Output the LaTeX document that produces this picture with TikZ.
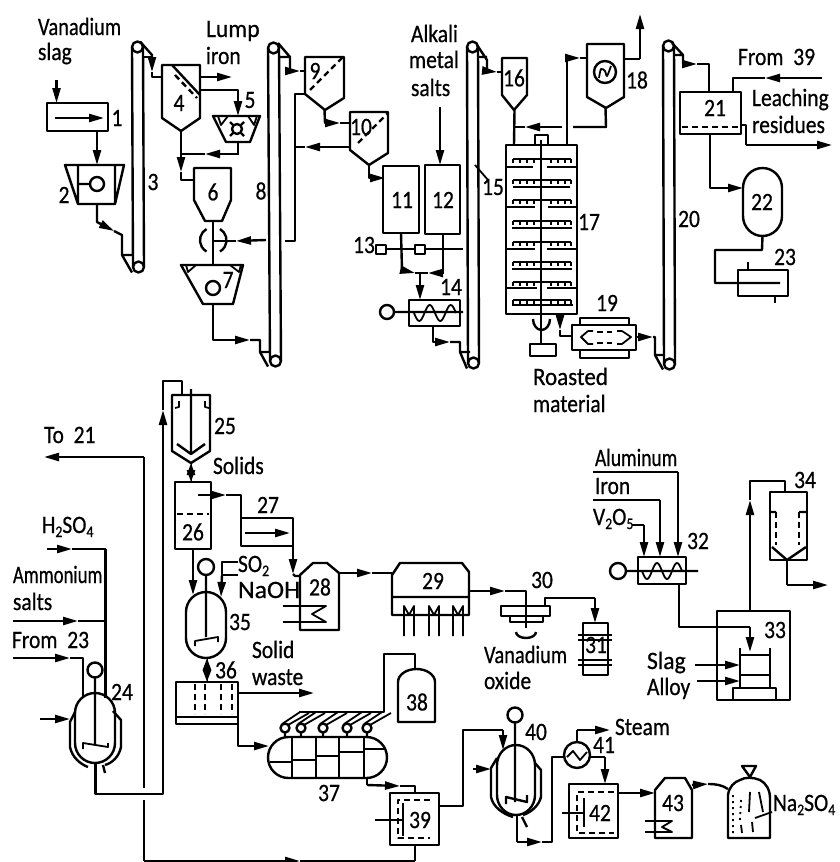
\documentclass[tikz,border=0pt]{standalone}
\usepackage{graphicx}
\usepackage{fontspec}
\setmainfont[FakeStretch=0.86,FakeBold=0.6]{Carlito}
\usetikzlibrary{arrows.meta,fit}
\newcommand{\sbs}[1]{\raisebox{-4pt}{\fontsize{16}{16}\selectfont #1}}
\newcommand{\hs}[2]{\scalebox{#1}[1]{#2}}
\newcommand{\unit}[6][]{\coordinate (#2-a) at (#3,#4);\coordinate (#2-b) at (#5,#6);\node[fit=(#2-a)(#2-b),inner sep=0pt,outer sep=0pt,#1] (#2) {};}
\newcommand{\elev}[6]{\coordinate (#1-a) at ({#2-5.5},{#3-5.5});\coordinate (#1-b) at ({#4+5.5},{#5+5.5});
 \node[fit=(#1-a)(#1-b),inner sep=0pt,outer sep=0pt] (#1) {};
 \draw[ln] (#2,#3) circle (5.5);\draw[ln] (#4,#5) circle (5.5);
 \draw[ln] ({#2-5.5},#3) -- ({#4-5.5},#5);\draw[ln] ({#2+5.5},#3) -- ({#4+5.5},#5);}
\newcommand{\tray}[6]{\draw[ln] (#3,#2) -- (#4,#2);\draw[ln] (#5,#2) -- (#6,#2);
 \draw[lt] (513,#1) -- (571,#1) (513,#1) -- +(0,4) (520,#1) -- +(0,4) (527,#1) -- +(0,4) (534,#1) -- +(0,4)
  (551,#1) -- +(0,4) (558,#1) -- +(0,4) (565,#1) -- +(0,4) (571,#1) -- +(0,4);}
\newcommand{\wave}[5]{\draw[lt] plot[domain=0:#5,samples=40,smooth] ({#1+\x*#3},{#2+#4*sin(360*\x)});}
\tikzset{
 ln/.style={line width=2.4pt,line join=round,black},
 lt/.style={line width=1.8pt,line join=round,black},
 ar/.style={ln,-{Triangle[length=15pt,width=8pt]},preaction={draw,arrows=-,shorten >=3pt}},
 dar/.style={ln,{Triangle[length=12pt,width=8pt]}-{Triangle[length=12pt,width=8pt]},preaction={draw,arrows=-}},
 dsh/.style={ln,dash pattern=on 6pt off 4pt},
 txt/.style={anchor=base west,inner sep=0pt,outer sep=0pt,font=\fontsize{25}{25}\selectfont},
 num/.style={anchor=center,inner sep=0pt,outer sep=0pt,font=\fontsize{25}{25}\selectfont},
}
\begin{document}
\begin{tikzpicture}[x=1pt,y=-1pt]
\useasboundingbox (0,0) rectangle (840,862);
% ---------- labels
\node[txt] (tVan) at (38,35) {\hs{0.95}{Vanadium}};
\node[txt] (tSlg) at (38,60) {slag};
\node[txt] (tLmp) at (206,37) {\hs{1.1}{Lump}};
\node[txt] (tIrn) at (206,64) {iron};
\node[txt] (tAlk) at (411,42) {Alkali};
\node[txt] (tMet) at (409,68) {metal};
\node[txt] (tSal) at (411,96) {salts};
\node[txt] (tRoa) at (533,385) {\hs{1.07}{Roasted}};
\node[txt] (tMat) at (533,412) {material};
\node[txt] (tF39) at (738,65) {From\ \ 39};
\node[txt] (tLea) at (752,106) {Leaching};
\node[txt] (tRes) at (752,133) {residues};
\node[txt] (tT21) at (44,443) {To\ \ 21};
\node[txt] (tH2) at (42,533) {H\sbs{2}SO\sbs{4}};
\node[txt] (tAmm) at (13,583) {\hs{0.87}{Ammonium}};
\node[txt] (tAms) at (13,610) {salts};
\node[txt] (tF23) at (12,648) {From\ \ 23};
\node[txt] (tSol) at (213,474) {Solids};
\node[txt] (tSO2) at (238,572) {SO\sbs{2}};
\node[txt] (tNaO) at (238,598) {\hs{1.2}{NaOH}};
\node[txt] (tSw1) at (252,658) {Solid};
\node[txt] (tSw2) at (252,685) {waste};
\node[txt] (tAlu) at (595,466) {\hs{0.91}{Aluminum}};
\node[txt] (tIro) at (595,494) {Iron};
\node[txt] (tV2) at (593,525) {V\sbs{2}O\sbs{5}};
\node[txt] (tVa2) at (484,663) {\hs{0.95}{Vanadium}};
\node[txt] (tOx) at (484,689) {oxide};
\node[txt] (tSla) at (647,669) {\hs{1.1}{Slag}};
\node[txt] (tAll) at (647,695) {Alloy};
\node[txt] (tSte) at (615,735) {Steam};
\node[txt] (tNa) at (773,811) {Na\sbs{2}SO\sbs{4}};
% numbers
\node[num] at (117,118) {1};\node[num] at (64,195) {2};\node[num] at (153,182) {3};
\node[num] at (179,103) {4};\node[num] at (250,100) {5};\node[num] at (213,192) {6};
\node[num] at (228,280) {7};\node[num] at (261,191) {8};\node[num] at (315,71) {9};
\node[num] at (361,127) {10};\node[num] at (402,200) {11};\node[num] at (443,200) {12};
\node[num] at (364,245) {13};\node[num] at (451,287) {14};\node[num] at (493,187) {15};
\node[num] at (514,78) {16};\node[num] at (589,222) {17};\node[num] at (637,80) {18};
\node[num] at (607,303) {19};\node[num] at (689,219) {20};\node[num] at (715,108) {21};
\node[num] at (762,202) {22};\node[num] at (785,257) {23};\node[num] at (122,692) {24};
\node[num] at (225,426) {25};\node[num] at (193,532) {26};\node[num] at (268,505) {27};
\node[num] at (320,587) {28};\node[num] at (433,581) {29};\node[num] at (542,580) {30};
\node[num] at (596,645) {31};\node[num] at (698,541) {32};\node[num] at (775,630) {33};
\node[num] at (805,480) {34};\node[num] at (240,622) {35};\node[num] at (226,670) {36};
\node[num] at (329,793) {37};\node[num] at (417,702) {38};\node[num] at (420,820) {39};
\node[num] at (536,732) {40};\node[num] at (604,745) {41};\node[num] at (600,813) {42};
\node[num] at (673,803) {43};
% ---------- units: upper row
\unit[draw,ln]{u1}{47}{103}{108}{131}
\draw[ar] (55,118) -- (104,118);
\unit{u2}{65}{165}{124}{204}
\draw[ln] (65,165) -- (124,165) -- (115,204) -- (78,204) -- cycle (78,165) -- (78,204) (115,165) -- (115,204) (78,184) -- (90,184);
\draw[ln] (97,184) circle (7);
\elev{e3}{137.5}{47}{138.5}{267}{}
\unit{u4}{162}{65}{200}{131}
\draw[ln] (162,65) -- (200,65) -- (200,118) -- (181,131) -- (162,118) -- cycle;
\draw[ln] (172,65) -- (200,95);
\draw[dsh] (175,75) -- (197,98);
\unit{u5}{213}{116}{260}{142}
\draw[ln] (213,116) -- (260,116) -- (250,142) -- (226,142) -- cycle;
\draw[lt] (218,116) -- (221,125) -- (228,116) (248,116) -- (254,125) -- (257,116);
\draw[ln] (237,129) circle (5);
\draw[ln] (230,122) -- (233,125) (244,122) -- (241,125) (230,136) -- (233,133) (244,136) -- (241,133);
\unit{u6}{194}{168}{231}{221}
\draw[ln] (194,168) -- (231,168) -- (231,200) -- (222,221) -- (205,221) -- (194,200) -- cycle;
\unit{u7}{181}{265}{243}{304}
\draw[ln] (181,265) -- (243,265) -- (233,304) -- (203,304) -- cycle;
\draw[lt] (186,265) -- (188,272) -- (196,265) (230,265) -- (239,272) -- (241,265);
\draw[ln] (213,288) circle (7);
\draw[ln] (206.5,229) arc (-120:-240:13);
\draw[ln] (220,229) arc (-60:60:13);
\elev{e8}{273.5}{48}{275.5}{361}{}
\unit{u9}{305}{57}{344}{110}
\draw[ln] (305,57) -- (344,57) -- (344,98) -- (325,110) -- (305,94) -- cycle;
\draw[dsh] (310,90) -- (343,57);
\unit{u10}{350}{112}{388}{165}
\draw[ln] (350,112) -- (388,112) -- (388,153) -- (369,165) -- (350,150) -- cycle;
\draw[dsh] (358,143) -- (388,113);
\unit[draw,ln]{u11}{383}{166}{419}{233}
\unit[draw,ln]{u12}{425}{165}{460}{234}
\draw[ln] (376,245) rectangle (386,254);
\draw[ln] (415,245) rectangle (425,254);
\draw[ln] (386,249) -- (415,249) (425,249) -- (463,249);
\unit[draw,ln]{u14}{409}{300}{460}{326}
\draw[ln] (387,312) circle (7) (394,312) -- (463,312);
\wave{414}{313}{21}{8}{2}
\elev{e15}{472.5}{47}{473.5}{363}{}
\draw[lt] (475,165) -- (488,180);
\unit{u16}{502}{58}{527}{110}
\draw[ln] (502,58) -- (527,58) -- (527,95) -- (514,110) -- (502,95) -- cycle;
\unit[draw,ln]{u17}{506}{145}{577}{314}
\draw[ln] (535,145) -- (535,135) -- (548,135) -- (548,145);
\draw[ln] (541,140) -- (541,343);
\tray{159}{167}{507}{533}{547}{577}
\tray{180}{187}{513}{541}{541}{570}
\tray{200}{207}{507}{535}{548}{577}
\tray{221}{228}{512}{541}{541}{572}
\tray{242}{249}{507}{535}{547}{577}
\tray{262}{269}{512}{541}{541}{572}
\tray{282}{288}{507}{537}{547}{577}
\tray{300}{305}{512}{541}{541}{573}
\draw[ln] (533,319) arc (180:0:8.5 and 11);
\draw[ln] (530,344) rectangle (556,356);
\unit{u18}{587}{44}{624}{108}
\draw[ln] (587,44) -- (624,44) -- (624,97) -- (606,108) -- (587,97) -- cycle;
\draw[ln] (605,72) circle (11);
\draw[lt] plot[smooth] coordinates {(599,78) (601,69) (605,71) (607,76) (611,66)};
\unit{u19}{572}{325}{636}{350}
\draw[ln] (572,325) rectangle (636,350);
\draw[ln] (580,325) -- (580,318) -- (629,318) -- (629,325) (580,350) -- (580,358) -- (629,358) -- (629,350);
\draw[lt] (588,331) -- (581,337) -- (588,344) -- (593,344) (588,331) -- (593,331);
\draw[lt] (622,331) -- (631,337) -- (622,344) (617,331) -- (622,331) (617,344) -- (622,344);
\draw[dsh] (597,332) -- (612,332) (597,343) -- (612,343);
\elev{e20}{668.5}{46}{669.5}{364}{}
\unit[draw,ln]{u21}{680}{92}{741}{134}
\draw[dsh] (682,127) -- (740,127);
\unit{u22}{743}{168}{782}{236}
\draw[ln] (743,188) arc (180:360:19.5 and 20) -- (782,216) arc (0:180:19.5 and 20) -- cycle;
\unit[draw,ln]{u23}{738}{270}{788}{296}
\draw[lt] (748,262) -- (748,270) (775,296) -- (775,303);
% ---------- upper connectors
\draw[ar] (56.5,80) -- (u1.north -| 56.5,0);
\draw[ar] (u1.south -| 97,0) -- (u2.north -| 97,0);
\draw[ar] (u2.south -| 97,0) -- (97,222) -- (114,231);
\draw[ln] (114,231) -- (122,235) -- (122,255) -- (133,255) (122,255) -- (e3.south west);
\draw[ar] (e3.north -| 140,0) -- (152,55) -- (152,72);
\draw[ln] (152,72) -- (152,77) -- (u4.west |- 0,77) (144,57) -- (152,57);
\draw[ar] (u4.east |- 0,77) -- (232,77);
\draw[ar] (u4.east |- 0,90) -- (238,90) -- (u5.north -| 238,0);
\draw[ar] (u5.south -| 238,0) -- (238,154) -- (205,154);
\draw[ln] (205,154) -- (181,154);
\draw[ar] (u4.south) -- (181,172);
\draw[ln] (181,172) -- (181,180) -- (u6.west |- 0,180);
\draw[ln] (u6.south -| 213,0) -- (u7.north -| 213,0);
\draw[ar] (266,240) -- (236,241);
\draw[ln] (236,241) -- (213,241);
\draw[ar] (u7.south -| 213,0) -- (213,340) -- (250,340);
\draw[ln] (250,340) -- (260,340) -- (260,352) -- (270,352) (260,352) -- (e8.south west);
\draw[ln] (278,43) -- (290,57) -- (290,71) (280,57) -- (290,57);
\draw[ar] (290,71) -- (300,71);
\draw[ln] (300,71) -- (u9.west |- 0,71);
\draw[ln] (u9.west |- 0,94) -- (295,94) -- (295,241) -- (285,241);
\draw[ar] (u10.west |- 0,147) -- (305,147);
\draw[ln] (305,147) -- (296,147);
\draw[ar] (u9.south) -- (325,123) -- (340,123);
\draw[ln] (340,123) -- (u10.west |- 0,123);
\draw[ar] (u10.south) -- (369,178) -- (385,178);
\draw[ar] (u11.south) -- (402,270) -- (415,273);
\draw[ln] (415,273) -- (420,273);
\draw[ar] (u12.south -| 443,0) -- (443,273) -- (428,273);
\draw[ln] (428,273) -- (420,273);
\draw[ar] (420,273) -- (u14.north -| 420,0);
\draw[ar] (440,107) -- (u12.north -| 440,0);
\draw[ar] (u14.south -| 433,0) -- (433,342) -- (450,342);
\draw[ln] (450,342) -- (460,342) -- (460,352) -- (470,352) (460,352) -- (e15.south west);
\draw[ln] (477,45) -- (487,60) -- (487,71) (478,57) -- (487,57);
\draw[ar] (487,71) -- (497,72);
\draw[ln] (497,72) -- (u16.west |- 0,72);
\draw[ln] (u16.south) -- (u17.north -| 514,0);
\draw[ln] (u18.south) -- (606,127) -- (573,127);
\draw[ar] (562,127) -- (525,127);
\draw[ln] (525,127) -- (514,127);
\draw[ln] (u17.north -| 567,0) -- (567,58);
\draw[ar] (567,58) -- (580,58);
\draw[ln] (580,58) -- (u18.west |- 0,58);
\draw[ln] (u18.east |- 0,59) -- (640,59);
\draw[ar] (640,59) -- (640,14);
\draw[ar] (u17.south -| 560,0) -- (560,330);
\draw[ln] (560,330) -- (560,336) -- (u19.west |- 0,336);
\draw[ar] (u19.east |- 0,337) -- (653,337);
\draw[ln] (653,337) -- (655,337) -- (655,355) -- (664,355) (655,355) -- (e20.south west);
\draw[ln] (672,43) -- (683,55) -- (683,64) (675,55) -- (683,55);
\draw[ar] (683,64) -- (697,64);
\draw[ln] (697,64) -- (709,64) -- (u21.north -| 709,0);
\draw[ar] (822,78) -- (765,78);
\draw[ln] (765,78) -- (733,78) -- (u21.north -| 733,0);
\draw[ln] (u21.east |- 0,125) -- (746,125) -- (746,145);
\draw[ar] (746,145) -- (832,145);
\draw[ar] (u21.south -| 710,0) -- (710,188) -- (u22.west |- 0,188);
\draw[ln] (u22.south) -- (762,250) -- (715,250) -- (715,283) -- (780,283);
% ---------- lower left
\unit{u24}{70}{693}{122}{770}
\draw[ln] (75,713) arc (180:360:20) -- (115,743) arc (0:180:20) -- cycle;
\draw[ln] (75,712) -- (70,722) -- (70,747) .. controls (72,757) and (80,764) .. (88,767);
\draw[ln] (113,711) -- (121,720) -- (121,747) .. controls (119,757) and (112,763) .. (105,765);
\draw[ln] (95,670) circle (7.5) (95,677.5) -- (95,745);
\draw[lt] (83,749) -- (83,743) -- (108,747) -- (108,743);
\draw[ln] (103,765) -- (105,773);
\draw[ar] (13,658) -- (70,658);
\draw[ln] (70,658) -- (83,658) -- (83,697);
\draw[ln] (105.5,549) -- (105.5,698);
\draw[ar] (47,549) -- (72,549);
\draw[ln] (72,549) -- (105.5,549);
\draw[ar] (13,621) -- (78,621);
\draw[ln] (78,621) -- (105.5,621);
\draw[ar] (40,719) -- (70,719);
\draw[ln] (95.5,763) -- (95.5,794) -- (163,794) -- (163,425);
\draw[ar] (163,425) -- (163,410);
\draw[ln] (163,410) -- (163,381) -- (182,381) -- (182,395);
\draw[ln] (144,788) -- (144,457);
\draw[ar] (144,457) -- (44,457);
\draw[ln] (144,800) -- (144,861);
\draw[ar] (144,861) -- (300,861);
\draw[lt] (300,861) -- (415,861);
\unit{u25}{172}{395}{210}{463}
\draw[ln] (172,395) -- (210,395) -- (210,451) -- (191,463) -- (172,451) -- cycle;
\draw[ln] (191,389) -- (191,453) (177,444) -- (191,454) -- (205,444);
\draw[lt] (179,401) -- (179,407) -- (175,408) (205,401) -- (205,407) -- (209,408);
\unit[draw,ln]{u26}{175}{482}{211}{549}
\draw[dsh] (177,514) -- (209,514);
\draw[dar] (u25.south) -- (u26.north -| 191,0);
\draw[ar] (198,495) -- (226,495);
\draw[ln] (226,495) -- (241,495) -- (241,546) -- (293,546) -- (293,518) -- (241,518);
\draw[ar] (245,533) -- (290,533);
\draw[ar] (293,540) -- (293,574);
\draw[ln] (293,574) -- (295,576) -- (300,576);
\unit{u28}{300}{563}{339}{630}
\draw[ln] (300,575) -- (313,563) -- (327,563) -- (339,573) -- (339,630) -- (300,630) -- cycle;
\draw[lt] (283,606) -- (326,606) -- (312,614) -- (326,622) -- (283,622);
\draw[ar] (u28.east |- 0,573) -- (372,573);
\draw[ln] (372,573) -- (392,573);
\unit{u35}{186}{592}{226}{658}
\draw[ln] (186,612) arc (180:360:20) -- (226,638) arc (0:180:20) -- cycle;
\draw[ln] (206,567) circle (8) (206,575) -- (206,637);
\draw[lt] (195,646) -- (195,641) -- (218,637) -- (218,642);
\draw[ar] (u26.south -| 193,0) -- (193,595);
\draw[ln] (238,562) -- (222,562) -- (222,580) (238,575) -- (222,575);
\draw[ar] (222,575) -- (221,597);
\draw[dar] (u35.south -| 207,0) -- (207,682);
\unit[draw,ln]{u36}{176}{682}{238}{724}
\draw[ln] (176,717) -- (238,717);
\draw[dsh] (195,684) -- (195,714) (205,684) -- (205,714) (221,684) -- (221,714) (232,684) -- (232,714);
\draw[ar] (u36.east |- 0,693) -- (314,693);
\draw[ln] (u36.south east) -- (238,746) -- (248,746);
\draw[ar] (248,746) -- (269,746);
\unit{u37}{268}{737}{387}{778}
\draw[ln] (288.5,737) -- (366.5,737) arc (-90:90:20.5) -- (288.5,778) arc (90:270:20.5) -- cycle;
\draw[ln] (292,737) -- (292,778) (316,737) -- (316,778) (339,737) -- (339,778) (364,737) -- (364,778);
\draw[ln] (270,762) -- (292,762) (292,760) -- (316,760) (316,756) -- (339,756) (339,752) -- (364,752) (364,749) -- (386,749);
\foreach \c in {285,301,323,347,367}{
 \draw[ln] (\c,728) circle (4.5) (\c,732.5) -- (\c,737);
 \draw[lt] ({\c-3},724) -- ({\c+15},712) ({\c+3},725) -- ({\c+24},713);
}
\draw[ln] (299,712) -- (384,712) -- (384,654) -- (415,654) -- (415,669);
\unit{u38}{398}{669}{435}{722}
\draw[ln] (398,682) arc (180:360:18.5 and 13) -- (435,722) -- (398,722) -- cycle;
\unit[draw,ln]{u39}{390}{793}{439}{845}
\draw[dsh] (430,800) -- (398,800) -- (398,838) -- (430,838);
\draw[ln] (375,820) -- (403,820) (403,803) -- (403,836);
\draw[ln] (u37.south -| 367,0) -- (367,785);
\draw[ar] (367,785) -- (400,786);
\draw[ln] (400,786) -- (415,786) -- (u39.north -| 415,0);
\draw[ln] (415,861) -- (u39.south -| 415,0);
% ---------- lower centre and right
\unit{u29}{392}{563}{469}{615}
\draw[ln] (392,575) -- (400,563) -- (462,563) -- (469,572) -- (469,615) -- (392,615) -- cycle (392,597) -- (469,597);
\draw[lt] (404,636) -- (404,606) -- (409,615) -- (414,606) -- (414,636);
\draw[lt] (429,636) -- (429,606) -- (434,615) -- (439,606) -- (439,636);
\draw[lt] (453,636) -- (453,606) -- (458,615) -- (463,606) -- (463,636);
\draw[ar] (u29.east |- 0,591) -- (505,591);
\draw[ln] (505,591) -- (526,591) -- (526,628);
\unit{u30}{501}{606}{550}{622}
\draw[ln] (501,606) rectangle (550,616) (510,616) rectangle (543,622);
\draw[ln] (516,632) arc (180:0:10 and 6);
\draw[ln] (545,606) -- (545,598) -- (595,598);
\draw[ar] (595,598) -- (595,623);
\unit[draw,ln]{u31}{583}{623}{608}{675}
\draw[ln] (578,635) -- (612,635) (578,640) -- (612,640) (578,660) -- (612,660) (578,665) -- (612,665);
\unit[draw,ln]{u32}{638}{557}{686}{584}
\draw[ln] (618,571) circle (8) (626,571) -- (698,571);
\wave{642}{571}{20}{8}{2}
\draw[ln] (593,472) -- (678,472);
\draw[ar] (678,472) -- (u32.north -| 678,0);
\draw[ln] (593,500) -- (660,500);
\draw[ar] (660,500) -- (u32.north -| 660,0);
\draw[ln] (632,525) -- (644,525);
\draw[ar] (644,525) -- (u32.north -| 644,0);
\unit[draw,ln]{u33}{717}{611}{790}{700}
\draw[ln] (740,648) -- (740,688) (770,648) -- (770,688) (740,655) -- (770,655) (740,675) -- (770,675) (733,688) rectangle (776,700);
\draw[ln] (u32.south -| 679,0) -- (679,627) -- (750,627);
\draw[ar] (750,627) -- (750,652);
\draw[ar] (695,665) -- (740,665);
\draw[ar] (697,681) -- (740,681);
\unit{u34}{770}{492}{807}{560}
\draw[ln] (770,492) rectangle (807,560);
\draw[dsh] (776,512) -- (776,545) (799,512) -- (799,545);
\draw[ln] (770,512) -- (776,512) (799,512) -- (807,512) (772,547) -- (787,560) -- (806,547);
\draw[ar] (u33.north -| 750,0) -- (750,500);
\draw[ln] (750,500) -- (750,481) -- (785,481) -- (u34.north -| 785,0);
\draw[ln] (u34.south -| 787,0) -- (787,585);
\draw[ar] (787,585) -- (828,585);
\unit{u40}{491}{745}{541}{815}
\draw[ln] (497,765) arc (180:360:19 and 20) -- (535,795) arc (0:180:19 and 20) -- cycle;
\draw[ln] (497,758) -- (491,768) -- (491,797) .. controls (493,807) and (503,814) .. (513,817);
\draw[ln] (535,763) -- (541,770) -- (541,797) .. controls (539,805) and (532,812) .. (523,815);
\draw[ln] (515,715) circle (7.5) (515,722.5) -- (515,802);
\draw[ln] (506,804) -- (506,797) -- (527,802) -- (527,795);
\draw[ln] (522,817) -- (527,827);
\draw[ln] (u39.east |- 0,806) -- (463,806) -- (463,730) -- (503,730);
\draw[ar] (503,730) -- (503,750);
\draw[ar] (473,769) -- (491,769);
\draw[ln] (517,815) -- (517,842);
\draw[ar] (517,842) -- (542,842);
\draw[ln] (542,842) -- (552,842) -- (552,757) -- (565,757);
\unit{u41}{564}{742}{590}{768}
\draw[ln] (577,755) circle (13);
\draw[lt] (567,757) -- (573,751) -- (580,760) -- (587,752);
\draw[ln] (u41.north) -- (577,730);
\draw[ar] (577,730) -- (610,730);
\draw[ln] (u41.east |- 0,757) -- (605,757);
\draw[ar] (605,757) -- (605,784);
\unit[draw,ln]{u42}{569}{784}{618}{838}
\draw[dsh] (614,792) -- (577,792) -- (577,833) -- (614,833);
\draw[ln] (562,813) -- (584,813) (584,798) -- (584,827);
\draw[ar] (u42.east |- 0,793) -- (655,793);
\unit{u43}{655}{778}{692}{838}
\draw[ln] (655,790) -- (665,778) -- (685,778) -- (692,790) -- (692,838) -- (655,838) -- cycle;
\draw[lt] (645,821) -- (672,821) -- (662,827) -- (672,832) -- (645,832);
\draw[ar] (u43.east |- 0,785) -- (708,784);
\draw[ln] (708,784) .. controls (716,784) and (722,785) .. (728,789);
\unit{bag}{728}{766}{770}{838}
\draw[ln] (728,838) -- (728,795) .. controls (729,787) and (734,782) .. (740,780) .. controls (745,777) and (753,777) .. (760,780) .. controls (766,783) and (770,790) .. (770,798) -- (770,838) -- cycle;
\draw[ln] (742,766) -- (756,766) -- (750,777) -- cycle;
\draw[lt] (750,792) -- (749,812) (759,792) -- (763,812) (741,825) -- (742,833) (752,822) -- (753,832);
\draw[lt,dash pattern=on 2pt off 4pt] (733,795) -- (733,835) (741,800) -- (740,820);
\draw[lt] (755,818) -- (772,812);
\end{tikzpicture}
\end{document}
